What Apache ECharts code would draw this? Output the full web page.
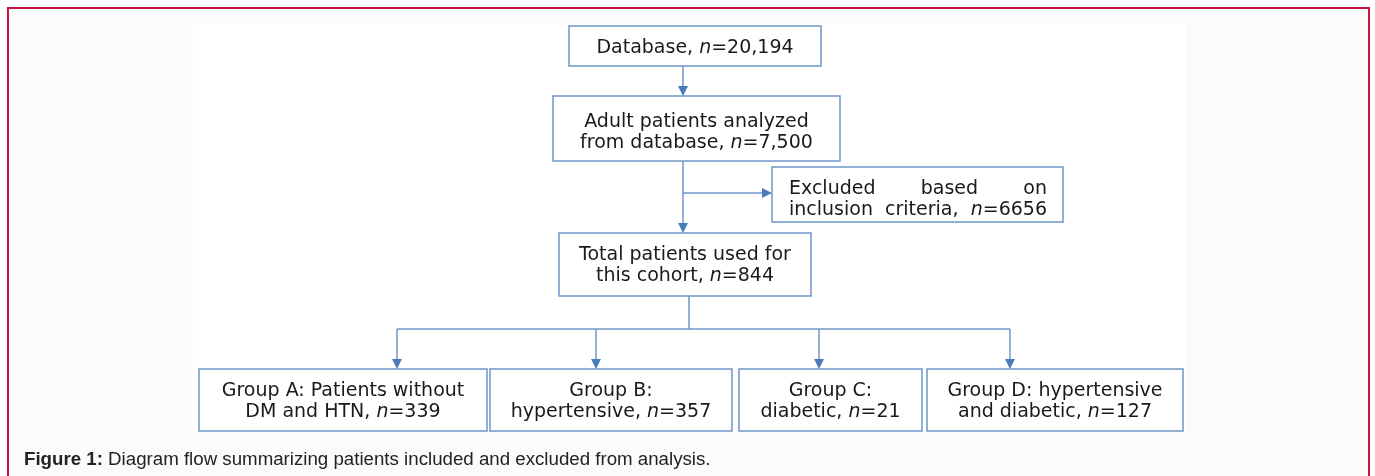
<!DOCTYPE html>
<html><head><meta charset="utf-8">
<script src="https://cdn.jsdelivr.net/npm/echarts@6/dist/echarts.min.js"></script>
<style>html,body{margin:0;padding:0;background:#fff}#c{width:1375px;height:476px}</style>
</head><body><div id="c"></div>
<script>
// ---- content ----
const boxTexts = [
  'Database, ',
  'Adult patients analyzed\nfrom database, ',
  'Total patients used for\nthis cohort, ',
  'Group A: Patients without\nDM and HTN, ',
  'Group B:\nhypertensive, ',
  'Group C:\ndiabetic, ',
  'Group D: hypertensive\nand diabetic, '
];
const boxCounts = ['20,194', '7,500', '844', '339', '357', '21', '127'];
const excludedWords = [['Excluded', 'based', 'on'], ['inclusion', 'criteria,']];
const excludedCount = '6656';
const captionBold = 'Figure 1:';
const captionText = ' Diagram flow summarizing patients included and excluded from analysis.';

// ---- layout (pixel units on hidden axes) ----
const boxRects = [[569,26,821,66],[553,96,840,161],[559,233,811,296],
  [199,369,487,431],[490,369,732,431],[739,369,922,431],[927,369,1183,431]];
const boxTextDy = [2, 4, 1, 2, 2, 2, 2];
const excludedRect = [772,167,1063,222];
const links = [
  {pts:[[683,66],[683,96]], arrow:true},
  {pts:[[683,161],[683,233]], arrow:true},
  {pts:[[683,193],[772,193]], arrow:true},
  {pts:[[689,296],[689,329]], arrow:false},
  {pts:[[397,329],[1010,329]], arrow:false},
  {pts:[[397,329],[397,369]], arrow:true},
  {pts:[[596,329],[596,369]], arrow:true},
  {pts:[[819,329],[819,369]], arrow:true},
  {pts:[[1010,329],[1010,369]], arrow:true}
];

const FONT = '"DejaVu Sans", Verdana, sans-serif';
const FS = 19, LH = 21;
const BOX_STROKE = '#6f96c9', LINE_COL = '#6f96c9', ARROW_COL = '#4a7cba', TXT = '#1a1a1a';

const ctx = document.createElement('canvas').getContext('2d');
function tw(s, italic) { ctx.font = (italic ? 'italic ' : '') + FS + 'px ' + FONT; return ctx.measureText(s).width; }

const chart = echarts.init(document.getElementById('c'), null, {renderer: 'canvas'});

const rich = { i: {fontStyle: 'italic', fontFamily: FONT, fontSize: FS, color: TXT, lineHeight: LH} };

function boxRender(params, api) {
  const i = params.dataIndex;
  const r = boxRects[i];
  const p0 = api.coord([r[0], r[1]]), p1 = api.coord([r[2], r[3]]);
  const cx = (p0[0] + p1[0]) / 2, cy = (p0[1] + p1[1]) / 2 + boxTextDy[i];
  const txt = boxTexts[i] + '{i|n}=' + boxCounts[i];
  return {
    type: 'group',
    children: [
      {type: 'rect', shape: {x: p0[0], y: p0[1], width: p1[0]-p0[0], height: p1[1]-p0[1]},
       style: {fill: '#fff', stroke: BOX_STROKE, lineWidth: 1.5}},
      {type: 'text', style: {text: txt, x: cx, y: cy, align: 'center', verticalAlign: 'middle',
        fontFamily: FONT, fontSize: FS, fill: TXT, lineHeight: LH, rich: rich}}
    ]
  };
}

function excludedRender(params, api) {
  const r = excludedRect;
  const p0 = api.coord([r[0], r[1]]), p1 = api.coord([r[2], r[3]]);
  const L = p0[0] + 17, R = p1[0] - 16;
  const cy = (p0[1] + p1[1]) / 2 + 5;
  const children = [{type: 'rect', shape: {x: p0[0], y: p0[1], width: p1[0]-p0[0], height: p1[1]-p0[1]},
       style: {fill: '#fff', stroke: BOX_STROKE, lineWidth: 1.5}}];
  const lines = [excludedWords[0].map(w => ({t: w, w: tw(w)})),
    excludedWords[1].map(w => ({t: w, w: tw(w)})).concat([{t: '{i|n}=' + excludedCount, w: tw('n', true) + tw('=' + excludedCount)}])];
  lines.forEach((ws, li) => {
    const total = ws.reduce((a, b) => a + b.w, 0);
    const gap = (R - L - total) / (ws.length - 1);
    let x = L;
    const y = cy + (li === 0 ? -LH/2 : LH/2);
    ws.forEach(w => {
      children.push({type: 'text', style: {text: w.t, x: x, y: y, align: 'left', verticalAlign: 'middle',
        fontFamily: FONT, fontSize: FS, fill: TXT, rich: rich}});
      x += w.w + gap;
    });
  });
  return {type: 'group', children: children};
}

function linkRender(params, api) {
  const lk = links[params.dataIndex];
  const pts = lk.pts.map(p => api.coord(p));
  const children = [];
  const a = pts[pts.length - 2], b = pts[pts.length - 1];
  let end = b.slice();
  const dx = b[0]-a[0], dy = b[1]-a[1], len = Math.hypot(dx, dy), ux = dx/len, uy = dy/len;
  const AL = 10, AW = 5;
  if (lk.arrow) end = [b[0] - ux*AL*0.7, b[1] - uy*AL*0.7];
  const linePts = pts.slice(0, -1).concat([end]);
  children.push({type: 'polyline', shape: {points: linePts}, style: {stroke: LINE_COL, lineWidth: 1.5, fill: null}});
  if (lk.arrow) {
    const bx = b[0] - ux*AL, by = b[1] - uy*AL;
    children.push({type: 'polygon', shape: {points: [[b[0], b[1]], [bx - uy*AW, by + ux*AW], [bx + uy*AW, by - ux*AW]]},
      style: {fill: ARROW_COL}});
  }
  return {type: 'group', children: children};
}

chart.setOption({
  animation: false,
  backgroundColor: '#ffffff',
  grid: {left: 0, right: 0, top: 0, bottom: 0},
  xAxis: {type: 'value', min: 0, max: 1375, show: false},
  yAxis: {type: 'value', min: 0, max: 476, inverse: true, show: false},
  graphic: [
    {type: 'rect', z: -10, shape: {x: 8, y: 8, width: 1361, height: 480},
     style: {fill: '#fcfafb', stroke: '#c8143c', lineWidth: 2}},
    {type: 'rect', z: -9, shape: {x: 193, y: 24, width: 993, height: 409}, style: {fill: '#ffffff'}},
    {type: 'text', z: 5, left: 24, top: 450, style: {
      text: '{b|' + captionBold + '}{r|' + captionText + '}',
      rich: {b: {fontFamily: '"Liberation Sans", Arial, sans-serif', fontWeight: 'bold', fontSize: 18.7, fill: '#222'},
             r: {fontFamily: '"Liberation Sans", Arial, sans-serif', fontSize: 18.7, fill: '#222'}}}}
  ],
  series: [
    {type: 'custom', renderItem: linkRender, data: links.map((l, i) => i), z: 2, silent: true},
    {type: 'custom', renderItem: boxRender, data: boxRects.map((b, i) => i), z: 3, silent: true},
    {type: 'custom', renderItem: excludedRender, data: [0], z: 3, silent: true}
  ]
});
</script></body></html>
